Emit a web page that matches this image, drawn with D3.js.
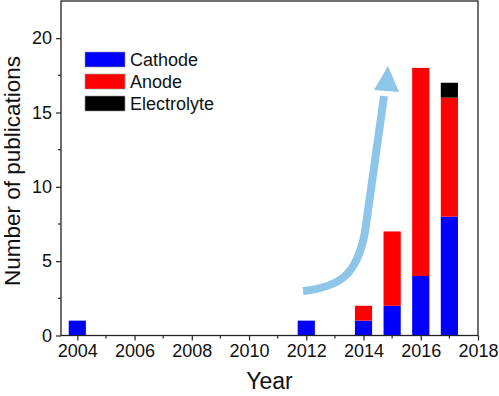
<!DOCTYPE html>
<html>
<head>
<meta charset="utf-8">
<script src="https://cdn.jsdelivr.net/npm/d3@7"></script>
<style>
body{margin:0;background:#fff;}
text{font-family:"Liberation Sans",Arial,sans-serif;fill:#111;}
</style>
</head>
<body>
<script>
var years = [2004,2012,2014,2015,2016,2017];
var cathode = [1,1,1,2,4,8];
var anode = [0,0,1,5,14,8];
var electrolyte = [0,0,0,0,0,1];
var seriesNames = ["Cathode","Anode","Electrolyte"];
var seriesColors = ["#0000ff","#ff0000","#000000"];
var xTicks = [2004,2006,2008,2010,2012,2014,2016,2018];
var yTicks = [0,5,10,15,20];

var W = 499, H = 396;
var plotL = 61, plotR = 478, plotT = 1, plotB = 335.5;

var svg = d3.select("body").append("svg").attr("width",W).attr("height",H);

var x = d3.scaleLinear().domain([2003.43,2018]).range([plotL,plotR]);
var y = d3.scaleLinear().domain([0,22.5]).range([plotB,plotT]);

var rows = years.map(function(yr,i){
  return {year:yr, Cathode:cathode[i], Anode:anode[i], Electrolyte:electrolyte[i]};
});
var stack = d3.stack().keys(seriesNames)(rows);
var barW = x(2004.6)-x(2004);

svg.selectAll("g.layer")
  .data(stack)
  .enter().append("g")
    .attr("class","layer")
    .attr("fill",function(d,i){return seriesColors[i];})
  .selectAll("rect")
  .data(function(d){return d.filter(function(p){return p[1]>p[0];});})
  .enter().append("rect")
    .attr("x",function(d){return x(d.data.year)-barW/2;})
    .attr("width",barW)
    .attr("y",function(d){return y(d[1]);})
    .attr("height",function(d){return y(d[0])-y(d[1]);});

// frame
svg.append("rect")
  .attr("x",plotL).attr("y",plotT)
  .attr("width",plotR-plotL).attr("height",plotB-plotT)
  .attr("fill","none").attr("stroke","#222").attr("stroke-width",1.3);

// minor ticks
var xMinor = d3.range(2005,2018,2);
svg.selectAll("line.xminor").data(xMinor).enter().append("line")
  .attr("class","xminor")
  .attr("x1",function(d){return x(d);}).attr("x2",function(d){return x(d);})
  .attr("y1",plotB).attr("y2",plotB+3)
  .attr("stroke","#222").attr("stroke-width",1.2);
var yMinor = [2.5,7.5,12.5,17.5];
svg.selectAll("line.yminor").data(yMinor).enter().append("line")
  .attr("class","yminor")
  .attr("y1",function(d){return y(d);}).attr("y2",function(d){return y(d);})
  .attr("x1",plotL).attr("x2",plotL-3)
  .attr("stroke","#222").attr("stroke-width",1.2);

var xAxis = d3.axisBottom(x).tickValues(xTicks).tickFormat(d3.format("d")).tickSize(5).tickPadding(4);
var gx = svg.append("g").attr("transform","translate(0,"+plotB+")").call(xAxis);
var yAxis = d3.axisLeft(y).tickValues(yTicks).tickSize(5).tickPadding(4);
var gy = svg.append("g").attr("transform","translate("+plotL+",0)").call(yAxis);
[gx,gy].forEach(function(g){
  g.select(".domain").remove();
  g.selectAll(".tick line").attr("stroke","#222").attr("stroke-width",1.2);
  g.selectAll(".tick text").attr("font-size",18).attr("fill","#111")
    .attr("font-family","Liberation Sans, Arial, sans-serif");
});

svg.append("text")
  .attr("x",(plotL+plotR)/2).attr("y",389)
  .attr("text-anchor","middle").attr("font-size",23)
  .text("Year");
svg.append("text")
  .attr("transform","translate(20,171) rotate(-90)")
  .attr("text-anchor","middle").attr("font-size",22.5)
  .text("Number of publications");

// legend
var lg = svg.append("g").attr("transform","translate(85,52)");
var item = lg.selectAll("g").data(seriesNames).enter().append("g")
  .attr("transform",function(d,i){return "translate(0,"+(i*22)+")";});
item.append("rect").attr("width",40).attr("height",15)
  .attr("fill",function(d,i){return seriesColors[i];})
  .attr("stroke","#999").attr("stroke-width",0.6);
item.append("text").attr("x",45).attr("y",14)
  .attr("font-size",18).text(function(d){return d;});

// trend arrow
svg.append("path")
  .attr("d","M303,291 C340,287 357,275 365,232 L384,96")
  .attr("fill","none").attr("stroke","#8ec6ea").attr("stroke-width",8);
svg.append("path")
  .attr("d","M388,66 L399,92 L374,90 Z")
  .attr("fill","#8ec6ea");
</script>
</body>
</html>
